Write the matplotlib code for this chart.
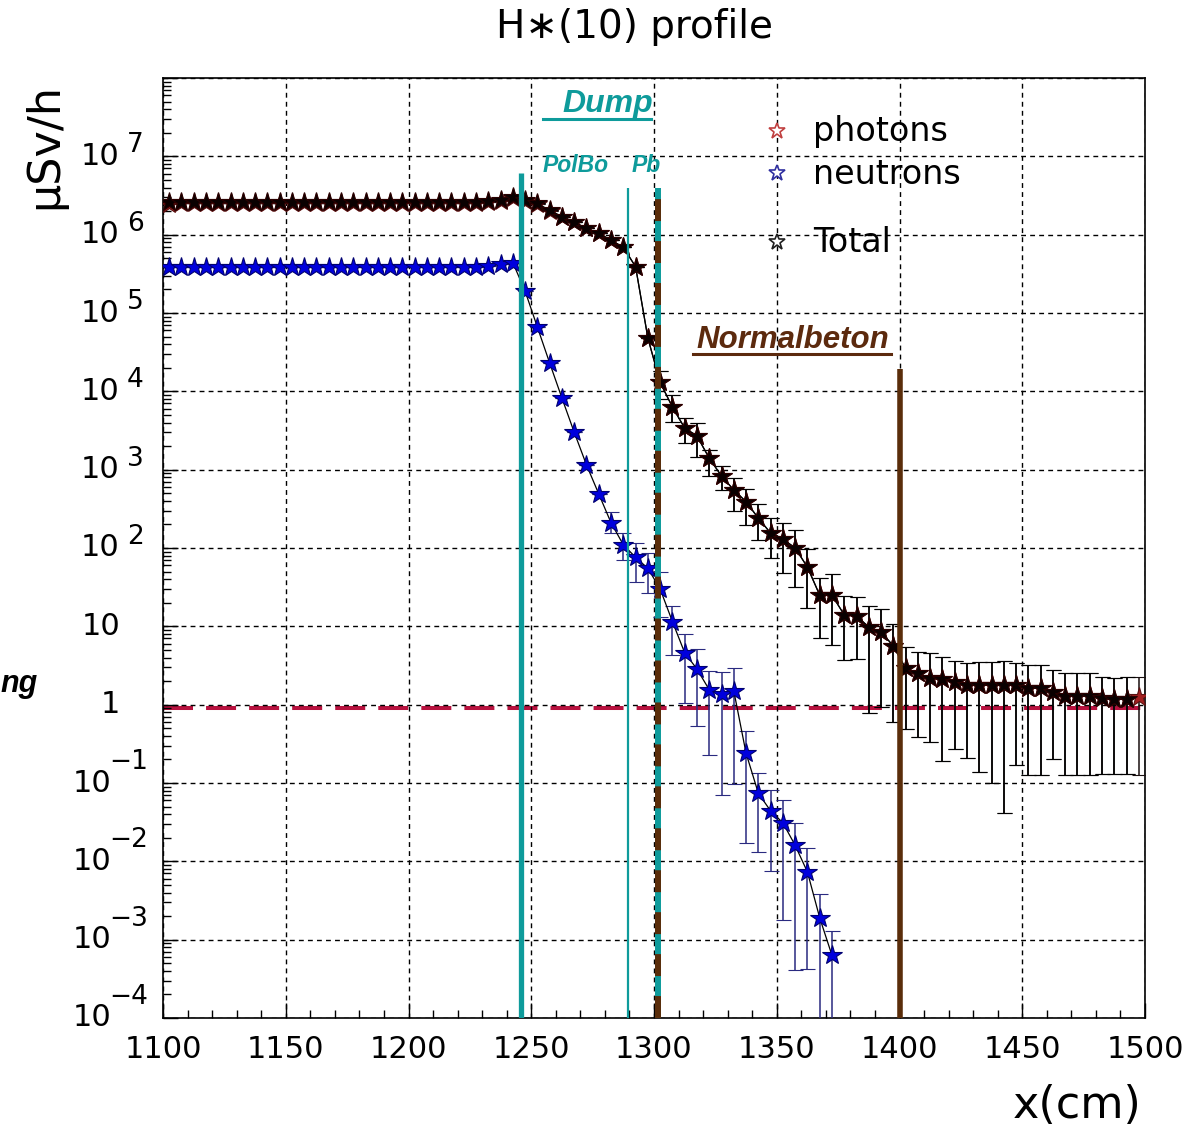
import numpy as np
import matplotlib
matplotlib.use("Agg")
import matplotlib.pyplot as plt
from matplotlib.lines import Line2D
from matplotlib.ticker import LogLocator, NullFormatter, MultipleLocator

plt.rcParams['lines.scale_dashes'] = False
plt.rcParams['font.family'] = ['DejaVu Sans']

W, H = 1194, 1131

# ---------------- data ----------------
x_cm = np.arange(1102.5, 1500, 5.0)          # 5 cm bins, 1100..1500

total = [2.6e6, 2.6e6, 2.6e6, 2.6e6, 2.6e6, 2.6e6, 2.6e6, 2.6e6, 2.6e6, 2.6e6,
         2.6e6, 2.6e6, 2.6e6, 2.6e6, 2.6e6, 2.6e6, 2.6e6, 2.6e6, 2.6e6, 2.6e6,
         2.6e6, 2.6e6, 2.6e6, 2.6e6, 2.6e6, 2.6e6, 2.7e6, 2.8e6, 3.0e6, 2.75e6,
         2.5e6, 2.05e6, 1.7e6, 1.45e6, 1.2e6, 1.04e6, 8.5e5, 6.9e5, 3.9e5, 4.8e4,
         1.3e4, 6.3e3, 3.4e3, 2.7e3, 1.4e3, 830, 550, 390, 240, 155,
         130, 100, 57, 25, 25, 14, 13.5, 9.8, 8.5, 5.6,
         2.9, 2.5, 2.2, 2.1, 1.95, 1.78, 1.78, 1.78, 1.78, 1.78,
         1.62, 1.62, 1.45, 1.3, 1.3, 1.3, 1.2, 1.17, 1.17, np.nan]

photons = [2.45e6, 2.5e6, 2.5e6, 2.5e6, 2.5e6, 2.5e6, 2.5e6, 2.5e6, 2.5e6, 2.5e6,
           2.5e6, 2.5e6, 2.5e6, 2.5e6, 2.5e6, 2.5e6, 2.5e6, 2.5e6, 2.5e6, 2.5e6,
           2.5e6, 2.5e6, 2.5e6, 2.5e6, 2.5e6, 2.5e6, 2.6e6, 2.7e6, 2.9e6, 2.7e6,
           2.45e6, 2.03e6, 1.69e6, 1.45e6, 1.2e6, 1.04e6, 8.5e5, 6.9e5, 3.9e5, 4.8e4,
           1.3e4, 6.3e3, 3.4e3, 2.7e3, 1.4e3, 830, 550, 390, 240, 155,
           130, 100, 57, 25, 25, 14, 13.5, 9.8, 8.5, 5.6,
           2.9, 2.5, 2.2, 2.1, 1.95, 1.78, 1.78, 1.78, 1.78, 1.78,
           1.62, 1.62, 1.45, 1.3, 1.3, 1.3, 1.2, 1.17, 1.17, 1.25]

# error-bar bounds of the total / photon tail (bins 1302.5 .. 1497.5)
tail_lo = [8.1e3, 4.1e3, 2.2e3, 1.45e3, 830, 550, 300, 195, 126, 74,
           48, 32, 17, 7.2, 5.8, 3.7, 3.8, 0.78, 0.93, 0.6,
           0.49, 0.39, 0.33, 0.19, 0.27, 0.21, 0.14, 0.10, 0.042, 0.17,
           0.126, 0.126, 0.2, 0.126, 0.126, 0.126, 0.13, 0.13, 0.13, 0.126]
tail_hi = [1.8e4, 8.9e3, 4.6e3, 4.0e3, 1.8e3, 1.12e3, 780, 560, 360, 240,
           210, 170, 98, 42, 47, 24.5, 23.5, 18, 16.6, 10.7,
           5.5, 4.7, 4.5, 4.1, 3.6, 3.4, 3.55, 3.55, 3.6, 3.4,
           3.2, 3.2, 2.75, 2.5, 2.5, 2.5, 2.25, 2.2, 2.25, 2.25]

neutrons = [3.9e5, 3.9e5, 3.9e5, 3.9e5, 3.9e5, 3.9e5, 3.9e5, 3.9e5, 3.9e5, 3.9e5,
            3.9e5, 3.9e5, 3.9e5, 3.9e5, 3.9e5, 3.9e5, 3.9e5, 3.9e5, 3.9e5, 3.9e5,
            3.9e5, 3.9e5, 3.9e5, 3.9e5, 3.9e5, 3.9e5, 4.0e5, 4.2e5, 4.4e5, 1.9e5,
            6.6e4, 2.3e4, 8.2e3, 3.0e3, 1.15e3, 490, 210, 110, 76, 55,
            30, 11.5, 4.6, 2.85, 1.55, 1.38, 1.5, 0.24, 0.074, 0.044,
            0.031, 0.016, 0.0073, 0.0019, 6.3e-4]
# neutron error-bar bounds (bins 1282.5 .. 1372.5)
neut_lo = [155, 71, 37, 27, 13, 4.3, 1.05, 0.54, 0.23, 0.071,
           0.098, 0.017, 0.013, 0.0076, 0.0018, 4.1e-4, 4.2e-4, 1e-6, 1e-6]
neut_hi = [290, 155, 115, 87, 49, 18, 8.0, 5.2, 2.7, 2.6,
           2.95, 0.46, 0.135, 0.081, 0.060, 0.031, 0.0148, 0.0038, 0.0013]

limit_value = 0.9                        # red dashed reference level (uSv/h)
dump_start, polbo_end, pb_end, beton_end = 1246.0, 1289.4, 1301.6, 1400.2

xticks = [1100, 1150, 1200, 1250, 1300, 1350, 1400, 1450, 1500]
decades = list(range(-4, 8))

# ---------------- figure ----------------
fig = plt.figure(figsize=(W / 100, H / 100), dpi=100)
ax = fig.add_axes([163 / W, 1 - 1018 / H, (1145 - 163) / W, (1018 - 78) / H])
ax.set_yscale('log')
ax.set_xlim(1100, 1500)
ax.set_ylim(1e-4, 1e8)


def fx(px):
    return px / W


def fy(py):
    return 1 - py / H


x = np.asarray(x_cm)
tot = np.asarray(total, dtype=float)
pho = np.asarray(photons, dtype=float)
neu = np.asarray(neutrons, dtype=float)
nn = len(neu)
ti = 40  # first tail bin with error bars
ni = 36  # first neutron bin with error bars
MS = 14.5

# photon series (mostly hidden below the total)
pho_err = np.zeros((2, len(pho)))
pho_err[0, ti:] = pho[ti:] - np.asarray(tail_lo)
pho_err[1, ti:] = np.asarray(tail_hi) - pho[ti:]
ax.errorbar(x, pho, yerr=pho_err, fmt='-', color='black', lw=0.9,
            marker='*', ms=MS, mfc='#a32020', mec='#5a1010', mew=0.8,
            ecolor='#1a1010', elinewidth=1.1, capsize=5.4, capthick=1.1, zorder=3)

# neutrons
neu_err = np.zeros((2, nn))
neu_err[0, ni:] = neu[ni:] - np.asarray(neut_lo)
neu_err[1, ni:] = np.asarray(neut_hi) - neu[ni:]
ax.errorbar(x[:nn], neu, yerr=neu_err, fmt='-', color='black', lw=0.9,
            marker='*', ms=MS, mfc='#0000dd', mec='#000070', mew=0.8,
            ecolor='#2a2a80', elinewidth=1.1, capsize=5.4, capthick=1.1, zorder=4)

# total
tot_err = np.zeros((2, len(tot)))
tot_err[0, ti:] = tot[ti:] - np.asarray(tail_lo)
tot_err[1, ti:] = np.asarray(tail_hi) - tot[ti:]
tot_err = np.nan_to_num(tot_err)
ax.errorbar(x, tot, yerr=tot_err, fmt='-', color='black', lw=0.9,
            marker='*', ms=MS, mfc='#0a0000', mec='#2a0000', mew=0.8,
            ecolor='black', elinewidth=1.1, capsize=5.4, capthick=1.1, zorder=5)

# reference level
ax.axhline(limit_value, color='#b8123f', lw=2.9, ls=(0, (21.6, 9.4)), zorder=2.5)

# shielding boundaries
teal = '#0e9b9b'
brown = '#5a2d0a'
ax.vlines(dump_start, 1e-4, 6.1e6, color=teal, lw=3.8, zorder=6)
ax.vlines(polbo_end, 1e-4, 4.0e6, color=teal, lw=1.6, zorder=6)
ax.vlines(pb_end, 1e-4, 4.0e6, color=teal, lw=4.3, zorder=6)
ax.vlines(pb_end, 1e-4, 4.0e6, color=brown, lw=4.3, ls=(0, (15.8, 14.4)), zorder=6.1)
ax.vlines(beton_end, 1e-4, 1.9e4, color=brown, lw=4.0, zorder=6)

# axes styling (ROOT-like)
ax.set_xticks(xticks)
ax.set_xticklabels([str(v) for v in xticks], fontsize=22)
ax.xaxis.set_minor_locator(MultipleLocator(10))
ax.yaxis.set_major_locator(LogLocator(base=10, numticks=20))
ax.yaxis.set_minor_locator(LogLocator(base=10, subs=np.arange(2, 10), numticks=20))
ax.yaxis.set_major_formatter(NullFormatter())
ax.yaxis.set_minor_formatter(NullFormatter())
ax.tick_params(axis='both', which='both', direction='in', top=False, right=False,
               width=1.0, colors='black')
ax.tick_params(axis='both', which='major', length=11)
ax.tick_params(axis='both', which='minor', length=5.5)
ax.tick_params(axis='x', which='major', pad=12)
ax.grid(True, which='major', color='black', lw=1.0, ls=(0, (3.5, 3)))
ax.set_axisbelow(False)
for s in ax.spines.values():
    s.set_linewidth(1.2)

# y tick labels, ROOT style 10^n
for e in decades:
    yv = 10.0 ** e
    _, ypix = ax.transData.transform((1100, yv))
    ypx = H - ypix
    if e == 0:
        fig.text(fx(120), fy(ypx), "1", ha='right', va='center', fontsize=22)
    elif e == 1:
        fig.text(fx(120), fy(ypx), "10", ha='right', va='center', fontsize=22)
    elif e > 1:
        fig.text(fx(119), fy(ypx), "10", ha='right', va='center', fontsize=22)
        fig.text(fx(127), fy(ypx - 11), str(e), ha='left', va='center', fontsize=19)
    else:
        fig.text(fx(111), fy(ypx), "10", ha='right', va='center', fontsize=22)
        fig.text(fx(109), fy(ypx - 21), "\u2212" + str(-e), ha='left', va='center', fontsize=19)

# titles / axis labels
fig.text(fx(634), fy(27), "H\u2217(10) profile", ha='center', va='center', fontsize=28)
fig.text(fx(45), fy(146), "\u03bcSv/h", ha='center', va='center', rotation=90, fontsize=32)
fig.text(fx(1141), fy(1106), "x(cm)", ha='right', va='center', fontsize=32)

# legend (no frame)
leg_items = [("photons", 131, '#c04040'),
             ("neutrons", 173, '#3030a0'),
             ("Total", 242, '#202020')]
for label, ypx, ec in leg_items:
    fig.add_artist(Line2D([fx(777)], [fy(ypx)], transform=fig.transFigure,
                          marker='*', ms=12, mfc='white', mec=ec, mew=1.2, ls='none'))
    fig.text(fx(813), fy(ypx + 1), label, ha='left', va='center', fontsize=24)

# region annotations
bi = dict(family=['Liberation Sans', 'DejaVu Sans'], fontweight='bold', fontstyle='italic')
fig.text(fx(562), fy(104), "Dump", ha='left', va='center', fontsize=23, color=teal, **bi)
fig.add_artist(Line2D([fx(543), fx(651)], [fy(119), fy(119)], transform=fig.transFigure,
                      color=teal, lw=2.2))
fig.text(fx(543), fy(165), "PolBo", ha='left', va='center', fontsize=16.5, color=teal, **bi)
fig.text(fx(632), fy(165), "Pb", ha='left', va='center', fontsize=16.5, color=teal, **bi)
fig.text(fx(696), fy(340), "Normalbeton", ha='left', va='center', fontsize=22.5, color='#5c2a0e', **bi)
fig.add_artist(Line2D([fx(693), fx(891)], [fy(354), fy(354)], transform=fig.transFigure,
                      color='#5c2a0e', lw=2.2))
fig.text(fx(0), fy(684), "ng", ha='left', va='center', fontsize=22, color='black', **bi)

fig.savefig("out.png", dpi=100)
